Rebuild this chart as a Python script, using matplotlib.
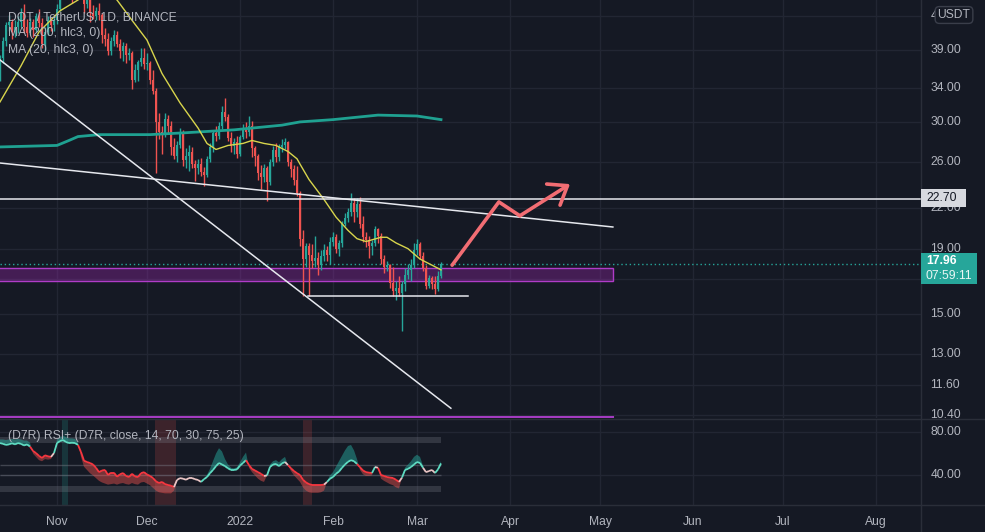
import numpy as np
import pandas as pd
import matplotlib
matplotlib.use('Agg')
import matplotlib.pyplot as plt
import matplotlib.dates as mdates
from matplotlib.lines import Line2D
from matplotlib.patches import Rectangle
from matplotlib.collections import LineCollection

plt.rcParams['font.family'] = ['Liberation Sans', 'DejaVu Sans']

# ---- data ----
dates = pd.date_range('2021-10-13', periods=148, freq='D')

opens = [35.3, 37.8, 40.3, 42.6, 43.1, 41.6, 42.4, 43.2, 44.6, 42.4,
         41.5, 43.2, 41.9, 44.0, 43.0, 39.8, 41.6, 43.4, 42.6, 43.5,
         45.2, 48.6, 52.0, 50.8, 49.0, 47.6, 49.7, 51.8, 51.4, 46.0,
         46.8, 44.5, 44.0, 44.8, 44.2, 41.2, 40.6, 38.9, 40.3, 41.2,
         39.9, 38.8, 39.6, 38.3, 38.5, 35.0, 36.2, 37.3, 37.9, 37.0,
         37.2, 35.0, 33.6, 30.0, 29.0, 28.8, 30.4, 29.6, 27.4, 26.6,
         27.6, 28.9, 26.2, 26.6, 27.0, 25.8, 25.4, 25.8, 25.1, 24.8,
         26.3, 27.4, 28.9, 28.6, 29.6, 31.2, 30.6, 28.4, 27.5, 27.9,
         26.8, 28.5, 29.4, 29.0, 29.6, 27.3, 26.6, 25.0, 24.6, 25.4,
         24.2, 26.0, 27.1, 26.5, 27.4, 27.6, 27.9, 26.0, 25.3, 24.4,
         23.2, 19.7, 18.3, 19.2, 18.6, 18.2, 18.4, 17.9, 18.5, 18.9,
         18.6, 19.5, 19.8, 19.0, 19.4, 20.8, 21.2, 21.7, 22.4, 21.7,
         22.3, 20.8, 19.8, 19.6, 19.2, 19.4, 20.4, 19.9, 18.3, 17.8,
         17.9, 16.8, 16.3, 16.5, 16.2, 16.7, 17.3, 17.6, 17.9, 18.9,
         19.3, 18.5, 17.7, 16.6, 17.1, 16.7, 16.4, 17.2]
highs = [38.3, 40.8, 43.2, 44.2, 43.6, 43.5, 44.0, 45.3, 46.0, 43.6,
         43.8, 43.6, 44.6, 45.2, 43.8, 42.4, 44.0, 43.8, 44.3, 46.1,
         49.5, 53.3, 55.1, 52.0, 49.5, 50.0, 52.5, 53.6, 53.0, 48.6,
         47.4, 45.8, 45.6, 46.2, 44.6, 42.2, 41.5, 40.8, 41.9, 41.8,
         40.6, 40.1, 40.0, 39.2, 38.8, 37.0, 37.6, 39.2, 39.3, 38.6,
         37.5, 36.2, 34.0, 31.0, 29.6, 31.0, 30.8, 30.1, 28.4, 28.0,
         29.4, 29.2, 27.3, 27.6, 27.4, 26.2, 26.3, 26.4, 25.5, 26.6,
         27.8, 29.2, 29.6, 30.0, 31.8, 32.8, 30.9, 29.0, 28.4, 28.6,
         28.7, 29.8, 30.0, 30.7, 30.2, 27.5, 26.8, 25.7, 25.8, 25.6,
         26.3, 27.5, 27.8, 27.7, 28.3, 28.4, 28.0, 26.3, 25.7, 25.6,
         23.4, 20.3, 19.4, 19.4, 19.3, 19.9, 18.8, 18.9, 19.3, 19.2,
         19.8, 20.2, 20.0, 19.6, 21.0, 21.6, 22.0, 23.2, 22.8, 22.8,
         22.9, 21.4, 20.2, 19.9, 19.6, 20.6, 20.5, 20.1, 18.6, 18.2,
         18.0, 17.8, 16.9, 17.2, 16.9, 17.7, 18.0, 18.3, 19.4, 19.7,
         19.5, 18.8, 17.9, 17.3, 17.2, 17.2, 17.5, 18.1]
lows = [34.8, 37.2, 39.5, 41.8, 40.6, 40.9, 41.5, 42.4, 41.5, 40.8,
        41.1, 40.9, 41.6, 42.4, 39.2, 39.0, 41.2, 41.8, 41.7, 42.8,
        44.8, 48.0, 49.8, 48.2, 46.2, 47.1, 49.0, 50.2, 44.5, 45.3,
        43.2, 43.6, 43.4, 43.5, 40.0, 39.5, 38.3, 38.3, 39.6, 39.4,
        37.8, 37.4, 37.2, 37.6, 33.8, 34.7, 34.9, 36.8, 36.4, 36.3,
        34.5, 33.2, 25.0, 28.2, 26.8, 28.5, 28.8, 26.7, 26.3, 26.0,
        27.3, 25.6, 25.4, 25.2, 25.4, 24.3, 24.9, 24.7, 23.8, 24.6,
        26.0, 27.0, 28.0, 28.3, 29.3, 30.2, 28.0, 27.0, 26.8, 26.4,
        26.6, 28.2, 28.4, 28.6, 26.5, 25.6, 24.4, 23.6, 24.2, 22.6,
        23.9, 25.6, 26.0, 26.1, 27.0, 27.2, 25.6, 24.6, 23.9, 23.0,
        19.2, 16.0, 17.8, 16.0, 17.7, 17.8, 17.3, 17.6, 18.2, 18.2,
        18.0, 19.2, 18.7, 18.5, 19.1, 20.6, 20.9, 21.4, 20.9, 21.3,
        20.5, 19.5, 19.1, 18.4, 18.6, 19.2, 19.4, 18.0, 17.4, 17.5,
        16.5, 16.0, 15.8, 16.0, 14.1, 16.3, 17.0, 16.9, 17.7, 18.6,
        18.3, 17.5, 16.4, 16.5, 16.4, 16.1, 16.3, 17.1]
closes = [37.8, 40.3, 42.6, 43.1, 41.6, 42.4, 43.2, 44.6, 42.4, 41.5,
          43.2, 41.9, 44.0, 43.0, 39.8, 41.6, 43.4, 42.6, 43.5, 45.2,
          48.6, 52.0, 50.8, 49.0, 47.6, 49.7, 51.8, 51.4, 46.0, 46.8,
          44.5, 44.0, 44.8, 44.2, 41.2, 40.6, 38.9, 40.3, 41.2, 39.9,
          38.8, 39.6, 38.3, 38.5, 35.0, 36.2, 37.3, 37.9, 37.0, 37.2,
          35.0, 33.6, 30.0, 29.0, 28.8, 30.4, 29.6, 27.4, 26.6, 27.6,
          28.9, 26.2, 26.6, 27.0, 25.8, 25.4, 25.8, 25.1, 24.8, 26.3,
          27.4, 28.9, 28.6, 29.6, 31.2, 30.6, 28.4, 27.5, 27.9, 26.8,
          28.5, 29.4, 29.0, 29.6, 27.3, 26.6, 25.0, 24.6, 25.4, 24.2,
          26.0, 27.1, 26.5, 27.4, 27.6, 27.9, 26.0, 25.3, 24.4, 23.2,
          19.7, 18.3, 19.2, 18.6, 18.2, 18.4, 17.9, 18.5, 18.9, 18.6,
          19.5, 19.8, 19.0, 19.4, 20.8, 21.2, 21.7, 22.4, 21.7, 22.3,
          20.8, 19.8, 19.6, 19.2, 19.4, 20.4, 19.9, 18.3, 17.8, 17.9,
          16.8, 16.3, 16.5, 16.2, 16.7, 17.3, 17.6, 17.9, 18.9, 19.3,
          18.5, 17.7, 16.6, 17.1, 16.7, 16.4, 17.2, 17.96]

# moving averages, read at a few bars (bar index into dates)
ma20_day = [0, 7, 13, 20, 26, 30, 35, 39, 44, 49, 54, 60, 66, 69, 72, 76, 81, 84,
            88, 92, 96, 99, 100, 103, 108, 112, 116, 119, 122, 127, 129, 132, 136,
            140, 144, 147]
ma20_val = [32.3, 36.8, 41.6, 44.9, 46.7, 48.6, 48.4, 46.7, 43.4, 40.4, 35.8, 32.2,
            29.4, 27.8, 27.2, 27.6, 27.8, 28.1, 27.8, 27.6, 27.0, 26.3, 25.8, 24.4,
            22.7, 21.3, 20.3, 19.7, 19.5, 19.8, 19.8, 19.4, 19.0, 18.3, 17.9, 17.6]
ma200_day = [0, 19, 23, 26, 33, 50, 62, 78, 94, 100, 111, 126, 139, 147]
ma200_val = [27.45, 27.6, 28.1, 28.5, 28.7, 28.7, 28.9, 29.2, 29.7, 30.05, 30.3,
             30.8, 30.7, 30.3]

rsi = [69.7, 69, 68, 68.5, 69.5, 68.5, 69.7, 69, 67.5, 68.5,
       66.5, 62.5, 60.5, 58, 56, 58.5, 57.5, 57, 60.5, 69.7,
       71.5, 72.5, 70.7, 69.7, 70, 69.7, 68, 61.5, 53.5, 52.3,
       51.4, 50, 47, 43, 44.5, 45, 40.4, 42.5, 42.5, 38.8,
       41, 42.2, 39.5, 38.5, 41.5, 39, 38.5, 42, 43, 40.8,
       39.5, 37.6, 34.5, 33, 34, 32, 31.2, 30.5, 29.3, 35.8,
       37.5, 37, 36, 37.6, 37.6, 36.5, 35.8, 34, 36.5, 38.5,
       42, 45, 48.5, 51.4, 50, 48.5, 46.5, 45, 45, 45.5,
       49, 51.4, 54, 49.5, 46, 44.5, 43, 41.5, 39.5, 40,
       47.7, 50, 50.5, 48.5, 51, 52.3, 49.5, 46.5, 44, 42,
       40.4, 36, 33.5, 32, 31.2, 31.2, 31.2, 31.2, 31.5, 34,
       37, 38.5, 41.5, 43.5, 47, 50, 52.5, 54, 53, 50.5,
       47.5, 44.5, 43, 42.5, 42.2, 47.7, 47, 40.4, 39.5, 38.5,
       38, 37.6, 36, 34, 38, 45, 46, 47.7, 50, 52.3,
       51.4, 47, 43, 44, 45, 42.2, 45.5, 51]
# outer edge of the RSI+ cloud (equal to rsi where there is no cloud)
rsi_edge = [73, 73, 72.5, 73, 73.5, 73, 73.5, 73, 72, 72,
            70, 60, 57, 54, 53, 55, 54.5, 55, 60.5, 73,
            75, 76.5, 75, 74, 74, 73.5, 70, 57, 48, 45,
            42, 40, 37.5, 35, 33.5, 32.5, 31.5, 32, 32.5, 31.5,
            32.5, 33, 32, 31.5, 33, 32, 31.5, 33.5, 34, 32.5,
            31, 28.5, 26, 24.5, 24, 23.5, 23.5, 23.5, 26, 35.8,
            37.5, 37, 36, 37.6, 37.6, 36.5, 35.8, 34, 37, 40.5,
            46, 53, 60, 65, 62, 55, 50, 47, 46.5, 47.5,
            52, 57, 61, 47, 43, 40, 37, 35, 34, 40,
            50, 53, 54, 52, 55, 57, 49.5, 44, 40, 37,
            34, 29, 26, 24.5, 24, 24, 24, 24.5, 26, 34,
            40, 43, 48, 53, 58, 63, 67, 68, 63, 55,
            45, 41, 39.5, 39.5, 40, 49, 47, 37, 35, 33.5,
            32, 31, 29, 28, 38, 47, 50, 53, 57, 59,
            57, 49, 43, 44, 45, 42.2, 47, 53]
rsi_bg_up = [('2021-11-02 17:00', '2021-11-04 17:00')]
rsi_bg_dn = [('2021-12-03 17:00', '2021-12-10 17:00'), ('2022-01-22', '2022-01-25')]

price_levels = [44, 39, 34, 30, 26, 22, 19, 17, 15, 13, 11.6, 10.4]
price_labels = [39, 34, 30, 26, 22, 19, 15, 13, 11.6, 10.4]
months = ['2021-11-01', '2021-12-01', '2022-01-01', '2022-02-01', '2022-03-01',
          '2022-04-01', '2022-05-01', '2022-06-01', '2022-07-01', '2022-08-01']
month_names = ['Nov', 'Dec', '2022', 'Feb', 'Mar', 'Apr', 'May', 'Jun', 'Jul', 'Aug']

# ---- style ----
BG = '#151924'
GRID = '#222633'
TXT = '#b2b5be'
UP = '#26a69a'
DN = '#ef5350'
PURPLE = '#9c27b0'
PINK = '#f26d73'
SEP = '#2a2e39'
W, H = 985, 532


def d(s):
    return mdates.date2num(pd.Timestamp(s).to_pydatetime())


def px_axes(x0, y0, x1, y1):
    a = fig.add_axes([x0 / W, 1 - y1 / H, (x1 - x0) / W, (y1 - y0) / H])
    a.set_facecolor('none')
    for s in a.spines.values():
        s.set_visible(False)
    return a


xs = mdates.date2num(dates.to_pydatetime())
o, h, l, c = map(np.array, (opens, highs, lows, closes))
rsi = np.array(rsi)
rsi_edge = np.array(rsi_edge)

fig = plt.figure(figsize=(W / 100, H / 100), dpi=100, facecolor=BG)
ax = px_axes(0, 0, 921, 418)
axr = px_axes(0, 420, 921, 505)
sc = px_axes(921, 0, 985, 418)
scr = px_axes(921, 420, 985, 505)

xlim = (xs[0], xs[0] + 307)
ylim = (10.30, 46.7)
rlim = (12.8, 90.9)
for a in (ax, sc):
    a.set_yscale('log')
    a.set_ylim(*ylim)
axr.set_ylim(*rlim)
scr.set_ylim(*rlim)
ax.set_xlim(*xlim)
axr.set_xlim(*xlim)
for a in (ax, sc, scr):
    a.set_xticks([])
    a.set_yticks([])
    a.minorticks_off()
axr.set_yticks([])

# grid
for v in price_levels:
    ax.axhline(v, color=GRID, lw=1, zorder=0)
for m in months:
    ax.axvline(d(m), color=GRID, lw=1, zorder=0)
    axr.axvline(d(m), color=GRID, lw=1, zorder=0)
for v in (80, 40):
    axr.axhline(v, color=GRID, lw=1, zorder=0)

# drawings behind candles
box_x0, box_x1 = d('2021-10-08'), d('2022-05-05 07:00')
ax.add_patch(Rectangle((box_x0, 16.9), box_x1 - box_x0, 17.72 - 16.9,
                       facecolor=PURPLE, alpha=0.35, edgecolor='none', zorder=1))
ax.add_patch(Rectangle((box_x0, 16.9), box_x1 - box_x0, 17.72 - 16.9,
                       facecolor='none', edgecolor='#b03cc8', lw=1, zorder=1))
ax.plot([box_x0, box_x1], [10.33, 10.33], color='#a33bc0', lw=1.5, zorder=2)
ax.axhline(17.96, color=UP, lw=1, ls=(0, (1, 2)), zorder=2)

# candles
col = np.where(c >= o, UP, DN)
ax.vlines(xs, l, h, colors=col, lw=1, zorder=3)
ax.bar(xs, np.maximum(np.abs(c - o), 0.04), bottom=np.minimum(o, c), width=0.75,
       color=col, linewidth=0, zorder=4)

# moving averages
ax.plot(xs[ma200_day], ma200_val, color='#1fa191', lw=2, zorder=5)
ax.plot(xs[ma20_day], ma20_val, color='#d8d54c', lw=1, zorder=5)

# trend lines and levels
ax.axhline(22.70, color='#e6e8ee', lw=1.1, zorder=6)
ax.plot([xs[0], d('2022-03-12 07:00')], [37.6, 10.67], color='#e6e8ee', lw=1.1, zorder=6)
ax.plot([xs[0], d('2022-05-05 07:00')], [25.9, 20.55], color='#e6e8ee', lw=1.1, zorder=6)
ax.plot([d('2022-01-23 17:00'), d('2022-03-18')], [16.0, 16.0], color='#e6e8ee', lw=1.1, zorder=6)

# projected path arrow
ax.plot([d('2022-03-12 17:00'), d('2022-03-28 07:00'), d('2022-04-04 07:00')],
        [17.9, 22.5, 21.4], color=PINK, lw=2.6, solid_capstyle='round',
        solid_joinstyle='round', zorder=7)
ax.annotate('', xy=(d('2022-04-21'), 24.0), xytext=(d('2022-04-04 07:00'), 21.4),
            arrowprops=dict(arrowstyle='->,head_length=0.6,head_width=0.45',
                            color=PINK, lw=2.6, shrinkA=0, shrinkB=0,
                            mutation_scale=20, capstyle='round'), zorder=7)

# ---- RSI pane ----
for a, b in rsi_bg_up:
    axr.axvspan(d(a), d(b), color=UP, alpha=0.2, lw=0, zorder=0)
for a, b in rsi_bg_dn:
    axr.axvspan(d(a), d(b), color=DN, alpha=0.18, lw=0, zorder=0)
axr.fill_between(xs, 70, 75, color='#787b86', alpha=0.3, lw=0, zorder=1)
axr.fill_between(xs, 25, 30, color='#787b86', alpha=0.3, lw=0, zorder=1)
axr.hlines([50, 40], xs[0], xs[-1], color='#787b86', alpha=0.45, lw=1, zorder=1)
axr.fill_between(xs, rsi, rsi_edge, where=rsi_edge >= rsi, interpolate=True,
                 color=UP, alpha=0.5, lw=0, zorder=2)
axr.fill_between(xs, rsi, rsi_edge, where=rsi_edge <= rsi, interpolate=True,
                 color=DN, alpha=0.45, lw=0, zorder=2)
seg_cols = []
for i in range(1, len(xs)):
    diff = rsi_edge[i] - rsi[i]
    seg_cols.append('#5fdcc2' if diff > 0.01 else ('#f7363f' if diff < -0.01 else '#e9c4c4'))
segs = [[(xs[i - 1], rsi[i - 1]), (xs[i], rsi[i])] for i in range(1, len(xs))]
axr.add_collection(LineCollection(segs, colors=seg_cols, linewidths=1.3, zorder=3))

axr.set_xticks([d(m) for m in months])
axr.set_xticklabels(month_names)
axr.tick_params(axis='x', length=0, pad=8, labelsize=8.7, labelcolor=TXT)

# ---- scales ----
yt = sc.get_yaxis_transform()
for v in price_labels:
    sc.text(0.15, v, f'{v:.2f}', transform=yt, ha='left', va='center',
            fontsize=8.7, color=TXT, clip_on=True)
# the 44.00 label is mostly hidden behind the USDT badge; only its first digit shows
sc.text(0.15, 44, '4', transform=yt, ha='left', va='center', fontsize=8.7, color=TXT)
for v in (80, 40):
    scr.text(0.15, v, f'{v:.2f}', transform=scr.get_yaxis_transform(), ha='left',
             va='center', fontsize=8.7, color=TXT, clip_on=True)


def px_rect(x0, y0, x1, y1, fc):
    fig.add_artist(Rectangle((x0 / W, 1 - y1 / H), (x1 - x0) / W, (y1 - y0) / H,
                             transform=fig.transFigure, facecolor=fc, edgecolor='none',
                             zorder=10))


def px_text(x, y, s, **kw):
    kw.setdefault('fontsize', 8.7)
    fig.text(x / W, 1 - y / H, s, va='center', zorder=11, **kw)


px_text(954, 15, 'USDT', ha='center', color=TXT,
        bbox=dict(boxstyle='round,pad=0.2,rounding_size=0.35', fc=BG, ec='#3a3e4a', lw=1))
px_rect(921, 189, 966, 207, '#d7d9df')
px_text(926, 198, '22.70', color='#131722')
px_rect(921, 253, 977, 284, UP)
px_text(926, 261, '17.96', color='white', fontweight='bold')
px_text(926, 276, '07:59:11', color='#e8f6f4')

# pane separators
for y in (419, 505):
    fig.add_artist(Line2D([0, 1], [1 - y / H, 1 - y / H], color=SEP, lw=1, zorder=9))
fig.add_artist(Line2D([921 / W, 921 / W], [0, 1], color=SEP, lw=1, zorder=9))

# legends
px_text(8, 17, 'DOT / TetherUS, 1D, BINANCE', color=TXT)
px_text(8, 33, 'MA (200, hlc3, 0)', color=TXT)
px_text(8, 50, 'MA (20, hlc3, 0)', color=TXT)
px_text(8, 436, '(D7R) RSI+ (D7R, close, 14, 70, 30, 75, 25)', color=TXT)

fig.savefig('out.png', dpi=100, facecolor=BG)
